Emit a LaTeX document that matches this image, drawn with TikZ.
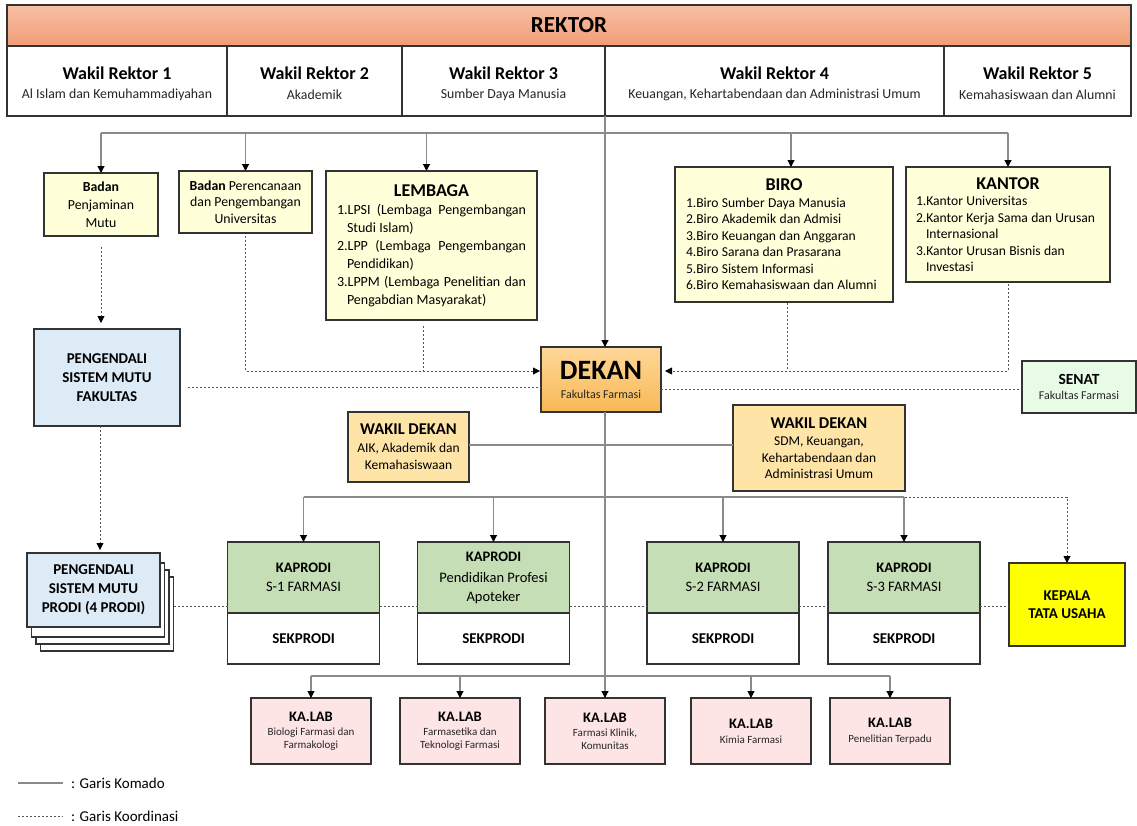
\documentclass[tikz,border=0pt]{standalone}
\usepackage{fontspec}
\setmainfont{Carlito}
\usetikzlibrary{arrows.meta,calc}
\newcommand\fsz[2]{\fontsize{#1}{#2}\selectfont}
\newcommand\jline[1]{\hbox to\hsize{#1}}
\newcommand\iline[1]{\hbox to\hsize{\hspace*{10pt}#1\hfil}}
\definecolor{rekt1}{HTML}{F8C0A4}
\definecolor{rekt2}{HTML}{F19C76}
\definecolor{lyellow}{HTML}{FFFFDA}
\definecolor{lblue}{HTML}{DDEBF7}
\definecolor{dek1}{HTML}{FFD799}
\definecolor{dek2}{HTML}{F7B955}
\definecolor{wdfill}{HTML}{FFE4A8}
\definecolor{senfill}{HTML}{E8FBE6}
\definecolor{kpfill}{HTML}{C5DEB5}
\definecolor{ktufill}{HTML}{FFFF00}
\definecolor{labfill}{HTML}{FDE4E5}
\definecolor{boxline}{HTML}{333333}
\definecolor{cmdgray}{HTML}{8A8A8A}
\definecolor{crdgray}{HTML}{555555}
\definecolor{subgray}{HTML}{262626}
\begin{document}
\begin{tikzpicture}[x=1pt,y=-1pt,
  box/.style={draw=boxline,line width=1.3pt,inner sep=2pt,outer sep=0pt,align=center,text=black},
  ybox/.style={box,fill=lyellow},
  cmd/.style={draw=cmdgray,line width=1.1pt},
  crd/.style={draw=crdgray,line width=0.9pt,dash pattern=on 2.2pt off 1.8pt},
  tip/.style={-{Triangle[length=7pt,width=7pt,color=black]}},
  wrcell/.style={box,fill=white,minimum height=70},
  wrtitle/.style={inner sep=0pt,font=\fsz{18}{20}\bfseries},
  wrsub/.style={inner sep=0pt,text=subgray,font=\fsz{13.8}{16}},
  kpbox/.style={box,fill=kpfill,minimum width=152,minimum height=71},
  sekbox/.style={box,fill=white,minimum width=152,minimum height=51,font=\fsz{15}{18}\bfseries},
  labbox/.style={box,fill=labfill,minimum width=120,minimum height=66},
  stackbox/.style={box,fill=white,minimum width=133,minimum height=74}
]
\useasboundingbox (0,0) rectangle (1137,825);

% ---- Rektor row
\node[box,top color=rekt1,bottom color=rekt2,minimum width=1124,minimum height=41] (rektor) at (569,25.5) {\fsz{23}{26}\bfseries REKTOR};
\node[wrcell,minimum width=220] (wr1) at (117,81) {};
\node[wrcell,minimum width=175] (wr2) at (314.5,81) {};
\node[wrcell,minimum width=203] (wr3) at (503.5,81) {};
\node[wrcell,minimum width=339] (wr4) at (774.5,81) {};
\node[wrcell,minimum width=187] (wr5) at (1037.5,81) {};
\node[wrtitle] (wr1t) at ([yshift=8pt]wr1.center) {Wakil Rektor 1};
\node[wrsub] (wr1s) at ([yshift=-14pt]wr1.center) {Al Islam dan Kemuhammadiyahan};
\node[wrtitle] (wr2t) at ([yshift=8pt]wr2.center) {Wakil Rektor 2};
\node[wrsub] (wr2s) at ([yshift=-14pt]wr2.center) {Akademik};
\node[wrtitle] (wr3t) at ([yshift=8pt]wr3.center) {Wakil Rektor 3};
\node[wrsub] (wr3s) at ([yshift=-14pt]wr3.center) {Sumber Daya Manusia};
\node[wrtitle] (wr4t) at ([yshift=8pt]wr4.center) {Wakil Rektor 4};
\node[wrsub] (wr4s) at ([yshift=-14pt]wr4.center) {Keuangan, Kehartabendaan dan Administrasi Umum};
\node[wrtitle] (wr5t) at ([yshift=8pt]wr5.center) {Wakil Rektor 5};
\node[wrsub] (wr5s) at ([yshift=-14pt]wr5.center) {Kemahasiswaan dan Alumni};

% ---- University units
\node[ybox,minimum width=114,minimum height=63,font=\fsz{13.8}{18}] (bpm) at (101,204.5) {\textbf{Badan}\\Penjaminan\\Mutu};
\node[ybox,minimum width=133,minimum height=62,font=\fsz{13.8}{16.5}] (bpp) at (245.5,202) {\textbf{Badan} Perencanaan\\dan Pengembangan\\Universitas};
\node[ybox,minimum width=211,minimum height=149,text width=189pt,inner sep=0pt] (lembaga) at (431.5,245.5) {\par
  \centerline{\fsz{18}{22}\bfseries LEMBAGA}
  \fsz{14}{18}\selectfont
  \jline{1.LPSI\hfill(Lembaga\hfill Pengembangan}
  \iline{Studi Islam)}
  \jline{2.LPP\hfill(Lembaga\hfill Pengembangan}
  \iline{Pendidikan)}
  \jline{3.LPPM\hfill(Lembaga\hfill Penelitian\hfill dan}
  \iline{Pengabdian Masyarakat)}};
\node[ybox,minimum width=218,minimum height=135,text width=196pt,inner sep=0pt] (biro) at (784,234.5) {\par
  \centerline{\fsz{18}{22}\bfseries BIRO}
  \fsz{13.6}{16.5}\selectfont
  \hbox{1.Biro Sumber Daya Manusia}
  \hbox{2.Biro Akademik dan Admisi}
  \hbox{3.Biro Keuangan dan Anggaran}
  \hbox{4.Biro Sarana dan Prasarana}
  \hbox{5.Biro Sistem Informasi}
  \hbox{6.Biro Kemahasiswaan dan Alumni}};
\node[ybox,minimum width=204,minimum height=115,text width=184pt,inner sep=0pt] (kantor) at (1008,224.5) {\par
  \centerline{\fsz{18}{22}\bfseries KANTOR}
  \fsz{13.6}{16.5}\selectfont
  \hbox{1.Kantor Universitas}
  \hbox{2.Kantor Kerja Sama dan Urusan}
  \iline{Internasional}
  \hbox{3.Kantor Urusan Bisnis dan}
  \iline{Investasi}};

% ---- Faculty level
\node[box,fill=lblue,minimum width=146,minimum height=97,font=\fsz{15}{19}\bfseries] (psmf) at (107,377.5) {PENGENDALI\\SISTEM MUTU\\FAKULTAS};
\node[box,top color=dek1,bottom color=dek2,minimum width=120,minimum height=65] (dekan) at (601,379.5) {{\fsz{28}{28}\bfseries DEKAN}\\[7pt]{\fsz{12}{14}\color{subgray}Fakultas Farmasi}};
\node[box,fill=senfill,minimum width=114,minimum height=52] (senat) at (1079,387) {{\fsz{15.5}{18}\bfseries SENAT}\\[3pt]{\fsz{12}{14}\color{subgray}Fakultas Farmasi}};
\node[box,fill=wdfill,minimum width=121,minimum height=70,font=\fsz{13.5}{17}] (wd1) at (408.5,447) {{\fsz{16.5}{18}\bfseries WAKIL DEKAN}\\[1pt]AIK, Akademik dan\\Kemahasiswaan};
\node[box,fill=wdfill,minimum width=172,minimum height=86,font=\fsz{13.5}{16.5}] (wd2) at (819,448) {{\fsz{16.5}{19}\bfseries WAKIL DEKAN}\\[1pt]SDM, Keuangan,\\Kehartabendaan dan\\Administrasi Umum};

% ---- Prodi level
\node[stackbox] (psmpc) at (107,614) {};
\node[stackbox] (psmpb) at (102.5,607) {};
\node[stackbox] (psmpa) at (98,600) {};
\node[box,fill=lblue,minimum width=133,minimum height=74,font=\fsz{15}{19}\bfseries] (psmp) at (93.5,590) {PENGENDALI\\SISTEM MUTU\\PRODI (4 PRODI)};

\node[kpbox,font=\fsz{14.5}{18}] (kp1) at (303.5,577.5) {\textbf{KAPRODI}\\[1pt]S-1 FARMASI};
\node[sekbox] (sek1) at (303.5,638.5) {SEKPRODI};
\node[kpbox,font=\fsz{14.5}{18.5}] (kp2) at (493.5,577.5) {\textbf{KAPRODI}\\[3pt]Pendidikan Profesi\\Apoteker};
\node[sekbox] (sek2) at (493.5,638.5) {SEKPRODI};
\node[kpbox,font=\fsz{14.5}{18}] (kp3) at (723,577.5) {\textbf{KAPRODI}\\[1pt]S-2 FARMASI};
\node[sekbox] (sek3) at (723,638.5) {SEKPRODI};
\node[kpbox,font=\fsz{14.5}{18}] (kp4) at (904,577.5) {\textbf{KAPRODI}\\[1pt]S-3 FARMASI};
\node[sekbox] (sek4) at (904,638.5) {SEKPRODI};
\node[box,fill=ktufill,minimum width=116,minimum height=83,font=\fsz{15}{18}\bfseries] (ktu) at (1067,604.5) {KEPALA\\TATA USAHA};

% ---- Labs
\node[labbox] (lab1) at (311,731) {{\fsz{14.5}{16}\bfseries KA.LAB}\\[2pt]{\fsz{11}{15}\color{subgray}Biologi Farmasi dan}\\[1pt]{\fsz{11}{15}\color{subgray}Farmakologi}};
\node[labbox] (lab2) at (460,731) {{\fsz{14.5}{16}\bfseries KA.LAB}\\[2pt]{\fsz{11}{15}\color{subgray}Farmasetika dan}\\[1pt]{\fsz{11}{15}\color{subgray}Teknologi Farmasi}};
\node[labbox] (lab3) at (605,731) {{\fsz{14.5}{16}\bfseries KA.LAB}\\[2pt]{\fsz{11}{15}\color{subgray}Farmasi Klinik,}\\[1pt]{\fsz{11}{15}\color{subgray}Komunitas}};
\node[labbox] (lab4) at (751,731) {{\fsz{14.5}{17}\bfseries KA.LAB}\\[3pt]{\fsz{11}{15}\color{subgray}Kimia Farmasi}};
\node[labbox] (lab5) at (890,731) {{\fsz{14.5}{17}\bfseries KA.LAB}\\[3pt]{\fsz{11}{15}\color{subgray}Penelitian Terpadu}};

% ---- Command lines (solid)
\coordinate (hl) at (101,133);
\coordinate (hr) at (1008,133);
\draw[cmd] (hl) -- (hr);
\draw[cmd,tip] (hl) -- (bpm.north);
\draw[cmd,tip] (bpp.north |- hl) -- (bpp.north);
\coordinate (lemtop) at ([xshift=-5pt]lembaga.north);
\draw[cmd,tip] (lemtop |- hl) -- (lemtop);
\coordinate (birtop) at ([xshift=7pt]biro.north);
\draw[cmd,tip] (birtop |- hl) -- (birtop);
\draw[cmd,tip] (hr) -- (kantor.north);
\draw[cmd,tip] (wr4.south west) -- (wr4.south west |- dekan.north);

\coordinate (wdl) at ([yshift=2pt]wd1.east);
\draw[cmd] (wdl) -- (wdl -| wd2.west);

\coordinate (dk) at ([xshift=4pt]dekan.south);
\coordinate (kl) at (303.5,497);
\coordinate (kr) at (904,497);
\draw[crd,tip] (dk |- kl) -| (ktu.north);
\draw[cmd] (kl) -- (kr);
\draw[cmd,tip] (kl) -- (kp1.north);
\draw[cmd,tip] (kp2.north |- kl) -- (kp2.north);
\draw[cmd,tip] (kp3.north |- kl) -- (kp3.north);
\draw[cmd,tip] (kr) -- (kp4.north);
\draw[cmd,tip] (dk) -- (dk |- lab3.north);

\coordinate (ll) at (311,676);
\coordinate (lr) at (890,676);
\draw[cmd] (ll) -- (lr);
\draw[cmd,tip] (ll) -- (lab1.north);
\draw[cmd,tip] (lab2.north |- ll) -- (lab2.north);
\draw[cmd,tip] (lab4.north |- ll) -- (lab4.north);
\draw[cmd,tip] (lr) -- (lab5.north);

% ---- Coordination lines (dotted)
\coordinate (din) at ([yshift=8.5pt]dekan.west);
\coordinate (dout) at ([yshift=8.5pt]dekan.east);
\draw[crd,tip,shorten >=1pt] ([yshift=-3pt]bpp.south) |- (din);
\coordinate (lemb) at ([xshift=-8.5pt,yshift=-6pt]lembaga.south);
\draw[crd] (lemb) -- (lemb |- din);
\coordinate (birb) at ([xshift=3pt,yshift=-1pt]biro.south);
\draw[crd] (birb) -- (birb |- dout);
\draw[crd,tip,shorten >=4pt] ([yshift=-2pt]kantor.south) |- (dout);

\coordinate (pa) at ([xshift=8pt,yshift=-9.5pt]psmf.east);
\draw[crd] (pa) -- (pa -| dekan.west);
\coordinate (sa) at ([yshift=-9.5pt]dekan.east);
\draw[crd] (sa) -- (sa -| senat.west);

\coordinate (bd) at ([yshift=-11pt]bpm.south);
\draw[crd,tip,shorten >=6pt] (bd) -- (bd |- psmf.north);
\coordinate (pd) at ([xshift=-7pt]psmf.south);
\draw[crd,tip,shorten >=3pt] (pd) -- (pd |- psmp.north);

\coordinate (row) at (0,606);
\draw[crd] (psmpc.east |- row) -- (kp1.west |- row);
\draw[crd] (kp1.east |- row) -- (kp2.west |- row);
\draw[crd] (kp2.east |- row) -- (kp3.west |- row);
\draw[crd] (kp3.east |- row) -- (kp4.west |- row);
\draw[crd] (kp4.east |- row) -- (ktu.west |- row);

% ---- Legend
\coordinate (lg1a) at (18,783);
\coordinate (lg1b) at (63,783);
\coordinate (lg2a) at (18,816);
\coordinate (lg2b) at (63,816);
\draw[cmd] (lg1a) -- (lg1b);
\draw[crd] (lg2a) -- (lg2b);
\node[anchor=west,inner sep=0pt,font=\fsz{15}{18}] (lgt1) at (71,783) {: Garis Komado};
\node[anchor=west,inner sep=0pt,font=\fsz{15}{18}] (lgt2) at (71,816) {: Garis Koordinasi};
\end{tikzpicture}
\end{document}
